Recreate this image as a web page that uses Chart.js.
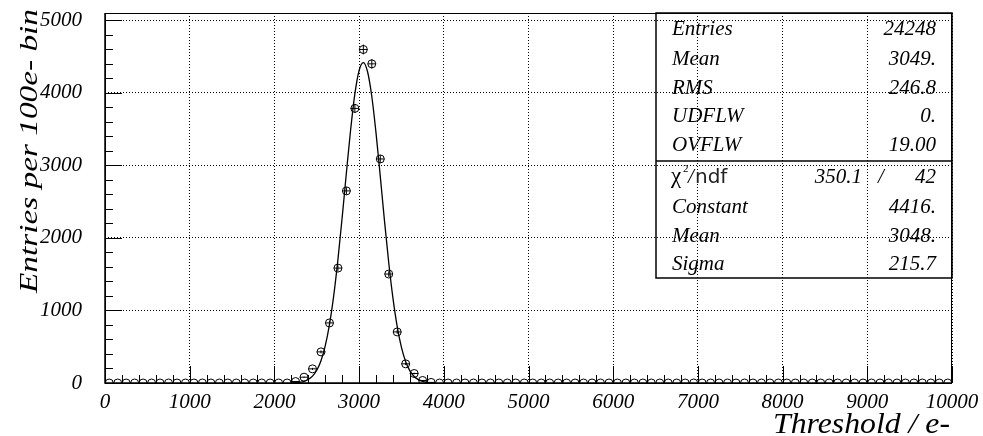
<!DOCTYPE html>
<html>
<head>
<meta charset="utf-8">
<script src="https://cdn.jsdelivr.net/npm/chart.js@4.4.1/dist/chart.umd.min.js"></script>
<style>
  html, body { margin: 0; padding: 0; background: #fff; }
  canvas { display: block; }
</style>
</head>
<body>
<canvas id="hist" width="983" height="436"></canvas>
<script>
// histogram: 100 bins of 100 e- from 0 to 10000
const binLow = 0;
const binWidth = 100;
const counts = [
  0, 0, 0, 0, 0, 0, 0, 0, 0, 0,
  0, 0, 0, 0, 0, 0, 0, 0, 0, 0,
  0, 0, 20, 80, 195, 429, 828, 1584, 2648, 3785,
  4597, 4399, 3088, 1502, 704, 264, 131, 35, 8, 0,
  0, 0, 0, 0, 0, 0, 0, 0, 0, 0,
  0, 0, 0, 0, 0, 0, 0, 0, 0, 0,
  0, 0, 0, 0, 0, 0, 0, 0, 0, 0,
  0, 0, 0, 0, 0, 0, 0, 0, 0, 0,
  0, 0, 0, 0, 0, 0, 0, 0, 0, 0,
  0, 0, 0, 0, 0, 0, 0, 0, 0, 0
];
// gaussian fit curve
const fitX = [2200, 2250, 2300, 2350, 2400, 2450, 2500, 2550, 2600, 2650, 2700, 2750,
  2800, 2850, 2900, 2950, 3000, 3050, 3100, 3150, 3200, 3250, 3300, 3350,
  3400, 3450, 3500, 3550, 3600, 3650, 3700, 3750, 3800, 3850, 3900];
const fitY = [2, 5, 11, 23, 49, 95, 175, 307, 511, 805, 1202, 1701,
  2280, 2898, 3490, 3984, 4308, 4416, 4290, 3949, 3444, 2848, 2231, 1657,
  1166, 777, 492, 294, 167, 90, 46, 22, 10, 4, 2];

const xTicks = [0, 1000, 2000, 3000, 4000, 5000, 6000, 7000, 8000, 9000, 10000];
const yTicks = [0, 1000, 2000, 3000, 4000, 5000];
const xTitle = 'Threshold / e-';
const yTitle = 'Entries per 100e- bin';

const statNames = ['Entries', 'Mean', 'RMS', 'UDFLW', 'OVFLW'];
const statValues = ['24248', '3049.', '246.8', '0.', '19.00'];
const fitNames = ['Constant', 'Mean', 'Sigma'];
const fitValues = ['4416.', '3048.', '215.7'];
const chi2 = '350.1';
const ndf = '42';

const serif = '"Liberation Serif", "Times New Roman", serif';
const points = counts.map((c, i) => ({ x: binLow + (i + 0.5) * binWidth, y: c }));
const fitLine = fitX.map((x, i) => ({ x, y: fitY[i] }));

const rootStyle = {
  id: 'rootStyle',
  afterDatasetsDraw(chart) {
    const { ctx, chartArea: a, scales: { x, y } } = chart;
    ctx.save();
    ctx.beginPath();
    ctx.rect(a.left, a.top, a.right - a.left, a.bottom - a.top);
    ctx.clip();
    ctx.strokeStyle = '#000';
    ctx.lineWidth = 1;
    points.forEach(p => {
      if (p.y <= 0) return;
      const px = x.getPixelForValue(p.x);
      const py = y.getPixelForValue(p.y);
      const e = Math.sqrt(p.y);
      ctx.beginPath();
      ctx.moveTo(x.getPixelForValue(p.x - binWidth / 2), py);
      ctx.lineTo(x.getPixelForValue(p.x + binWidth / 2), py);
      ctx.moveTo(px, y.getPixelForValue(p.y - e));
      ctx.lineTo(px, y.getPixelForValue(p.y + e));
      ctx.stroke();
    });
    ctx.restore();
  },
  afterDraw(chart) {
    const { ctx, chartArea: a, scales: { x, y } } = chart;
    ctx.save();
    // frame
    ctx.strokeStyle = '#000';
    ctx.lineWidth = 1;
    ctx.strokeRect(a.left + 0.5, a.top + 0.5, a.right - a.left - 1, a.bottom - a.top);
    ctx.lineWidth = 1.5;
    ctx.beginPath();
    ctx.moveTo(a.left, a.top);
    ctx.lineTo(a.left, a.bottom);
    ctx.lineTo(a.right, a.bottom);
    ctx.stroke();
    // inner ticks
    ctx.lineWidth = 1;
    ctx.beginPath();
    for (let v = 0; v <= 10000; v += 200) {
      const px = Math.round(x.getPixelForValue(v)) + 0.5;
      const len = v % 1000 === 0 ? 17 : 8;
      ctx.moveTo(px, a.bottom);
      ctx.lineTo(px, a.bottom - len);
    }
    for (let v = 0; v <= 5000; v += 200) {
      const py = Math.round(y.getPixelForValue(v)) + 0.5;
      const len = v % 1000 === 0 ? 17 : 8;
      ctx.moveTo(a.left, py);
      ctx.lineTo(a.left + len, py);
    }
    ctx.stroke();

    // stats box
    const bx0 = 656, by0 = 13, bx1 = 952, by1 = 278, bmid = 161;
    ctx.lineWidth = 1.5;
    ctx.strokeRect(bx0, by0, bx1 - bx0, by1 - by0);
    ctx.beginPath();
    ctx.moveTo(bx0, bmid);
    ctx.lineTo(bx1, bmid);
    ctx.stroke();
    ctx.fillStyle = '#000';
    ctx.font = 'italic 21px ' + serif;
    ctx.textBaseline = 'alphabetic';
    const statBase = [35, 65, 94, 122, 151];
    statNames.forEach((n, i) => {
      ctx.textAlign = 'left';
      ctx.fillText(n, 672, statBase[i]);
      ctx.textAlign = 'right';
      ctx.fillText(statValues[i], 936, statBase[i]);
    });
    const fitBase = [213, 242, 270];
    fitNames.forEach((n, i) => {
      ctx.textAlign = 'left';
      ctx.fillText(n, 672, fitBase[i]);
      ctx.textAlign = 'right';
      ctx.fillText(fitValues[i], 936, fitBase[i]);
    });
    // chi2 / ndf row
    const cb = 183;
    ctx.textAlign = 'left';
    ctx.font = '23px ' + serif;
    ctx.fillText('χ', 671, cb);
    ctx.font = '11px ' + serif;
    ctx.fillText('2', 683, cb - 11);
    ctx.font = 'italic 21px ' + serif;
    ctx.fillText('/', 688, cb);
    ctx.font = '20px "DejaVu Sans", sans-serif';
    ctx.fillStyle = '#222';
    ctx.fillText('ndf', 695, cb);
    ctx.fillStyle = '#000';
    ctx.font = 'italic 21px ' + serif;
    ctx.textAlign = 'right';
    ctx.fillText(chi2, 862, cb);
    ctx.textAlign = 'left';
    ctx.fillText('/', 878, cb);
    ctx.textAlign = 'right';
    ctx.fillText(ndf, 936, cb);

    // axis titles
    ctx.font = 'italic 30px ' + serif;
    ctx.textAlign = 'right';
    const wx = ctx.measureText(xTitle).width;
    ctx.save();
    ctx.translate(950, 433);
    ctx.scale(177 / wx, 1);
    ctx.fillText(xTitle, 0, 0);
    ctx.restore();

    ctx.font = 'italic 25px ' + serif;
    ctx.textAlign = 'left';
    const wy = ctx.measureText(yTitle).width;
    ctx.save();
    ctx.translate(37, 293);
    ctx.rotate(-Math.PI / 2);
    ctx.scale(284 / wy, 1);
    ctx.fillText(yTitle, 0, 0);
    ctx.restore();

    ctx.restore();
  }
};

new Chart(document.getElementById('hist'), {
  data: {
    datasets: [
      {
        type: 'scatter',
        data: points,
        pointStyle: 'circle',
        pointRadius: 4,
        pointHoverRadius: 4,
        pointBorderWidth: 1,
        pointBorderColor: '#000',
        pointBackgroundColor: 'rgba(0,0,0,0)',
        showLine: false,
        clip: 0
      },
      {
        type: 'line',
        data: fitLine,
        borderColor: '#000',
        borderWidth: 1.3,
        pointRadius: 0,
        fill: false,
        cubicInterpolationMode: 'monotone',
        clip: 0
      }
    ]
  },
  options: {
    responsive: false,
    animation: false,
    devicePixelRatio: 1,
    layout: { padding: { left: 0, top: 13, right: 31, bottom: 0 }, autoPadding: false },
    plugins: { legend: { display: false }, tooltip: { enabled: false } },
    scales: {
      x: {
        type: 'linear',
        min: 0,
        max: 10000,
        afterBuildTicks: s => { s.ticks = xTicks.map(v => ({ value: v })); },
        afterFit: s => { s.height = 53; s.paddingLeft = 0; s.paddingRight = 0; },
        ticks: {
          autoSkip: false,
          maxRotation: 0,
          padding: 7,
          color: '#000',
          font: { family: serif, size: 21, style: 'italic' },
          callback: v => String(v)
        },
        grid: { color: '#000', lineWidth: 1, drawTicks: false },
        border: { display: false, dash: [1, 2] }
      },
      y: {
        type: 'linear',
        min: 0,
        max: 5100,
        afterBuildTicks: s => { s.ticks = yTicks.map(v => ({ value: v })); },
        afterFit: s => { s.width = 105; s.paddingTop = 0; s.paddingBottom = 0; },
        ticks: {
          padding: 23,
          color: '#000',
          font: { family: serif, size: 21, style: 'italic' },
          callback: v => String(v)
        },
        grid: { color: '#000', lineWidth: 1, drawTicks: false },
        border: { display: false, dash: [1, 2] }
      }
    }
  },
  plugins: [rootStyle]
});
</script>
</body>
</html>
